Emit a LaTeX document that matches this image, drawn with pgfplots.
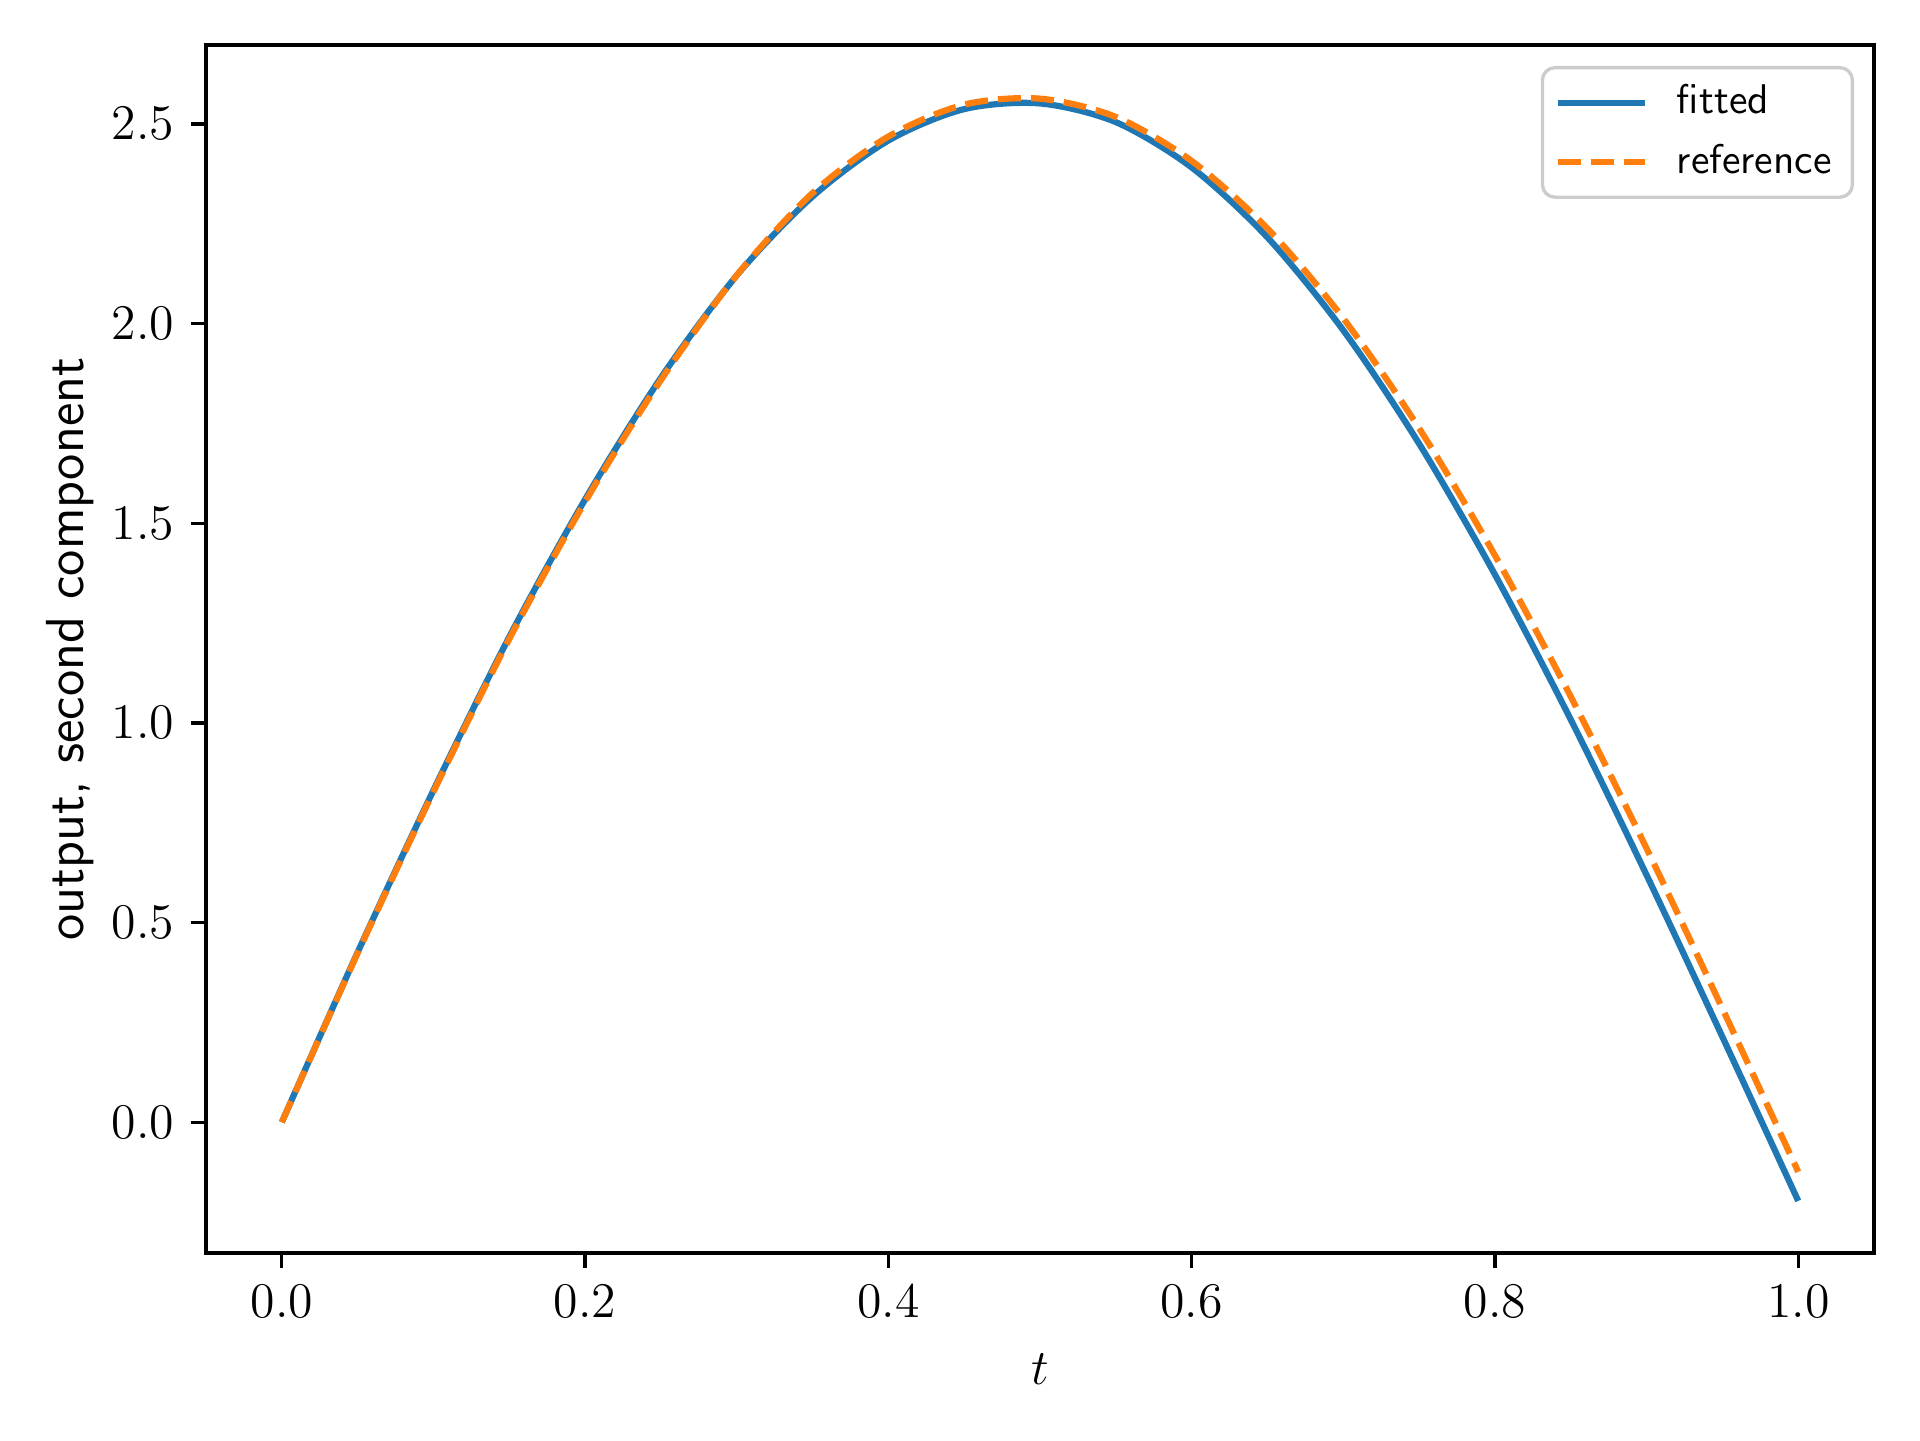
\documentclass[12pt,border=0pt]{standalone}
\usepackage{pgfplots}
\pgfplotsset{compat=1.18}
\definecolor{mplblue}{HTML}{1F77B4}
\definecolor{mplorange}{HTML}{FF7F0E}

\begin{document}
\begin{tikzpicture}
\begin{axis}[
    scale only axis,
    width=14.123cm, height=10.228cm,
    xmin=-0.05, xmax=1.05, ymin=-0.3275, ymax=2.6975,
    xtick={0,0.2,0.4,0.6,0.8,1.0},
    ytick={0,0.5,1.0,1.5,2.0,2.5},
    xticklabel={\pgfmathprintnumber[fixed,fixed zerofill,precision=1]{\tick}},
    yticklabel={\pgfmathprintnumber[fixed,fixed zerofill,precision=1]{\tick}},
    tick align=outside, tick pos=left,
    major tick length=3.5pt,
    every tick/.style={black, line width=0.8pt},
    axis line style={line width=0.8pt},
    xlabel={$t$},
    ylabel={\fontsize{12.9}{15}\selectfont\textsf{output, second component}},
    xlabel style={at={(axis description cs:0.5,-0.096)}, anchor=center},
    ylabel style={at={(axis description cs:-0.0815,0.5)}, anchor=center},
    legend cell align=left,
    legend style={at={(axis description cs:0.988,0.9826)}, anchor=north east,
                  draw=black!20, line width=0.8pt, rounded corners=3pt,
                  fill=white, fill opacity=0.8, text opacity=1, row sep=1.5pt,
                  /tikz/every odd column/.append style={column sep=0.17cm},
                  font=\sffamily\fontsize{10}{12}\selectfont},
    legend image code/.code={\draw[#1] (0cm,0cm) -- (0.74cm,0cm);},
]
\addplot[mplblue, line width=1.5pt, smooth] coordinates {
    (0.00,0.0000) (0.05,0.4254) (0.10,0.8313) (0.15,1.2152) (0.20,1.5595)
    (0.25,1.8642) (0.30,2.1203) (0.35,2.3180) (0.40,2.4582) (0.45,2.5369)
    (0.50,2.5511) (0.55,2.5043) (0.60,2.3908) (0.65,2.2155) (0.70,1.9829)
    (0.75,1.6991) (0.80,1.3713) (0.85,1.0082) (0.90,0.6189) (0.95,0.2137)
    (1.00,-0.1971)};
\addlegendentry{fitted}
\addplot[mplorange, line width=1.5pt, dash pattern=on 5.55pt off 2.4pt, smooth] coordinates {
    (0.00,0.0000) (0.05,0.4234) (0.10,0.8274) (0.15,1.2101) (0.20,1.5537)
    (0.25,1.8585) (0.30,2.1208) (0.35,2.3268) (0.40,2.4683) (0.45,2.5482)
    (0.50,2.5631) (0.55,2.5173) (0.60,2.4072) (0.65,2.2379) (0.70,2.0129)
    (0.75,1.7377) (0.80,1.4194) (0.85,1.0658) (0.90,0.6856) (0.95,0.2844)
    (1.00,-0.1241)};
\addlegendentry{reference}
\end{axis}
\path ([xshift=-1.744cm,yshift=-1.583cm]current axis.south west)
    rectangle ([xshift=0.389cm,yshift=0.381cm]current axis.north east);
\end{tikzpicture}
\end{document}
